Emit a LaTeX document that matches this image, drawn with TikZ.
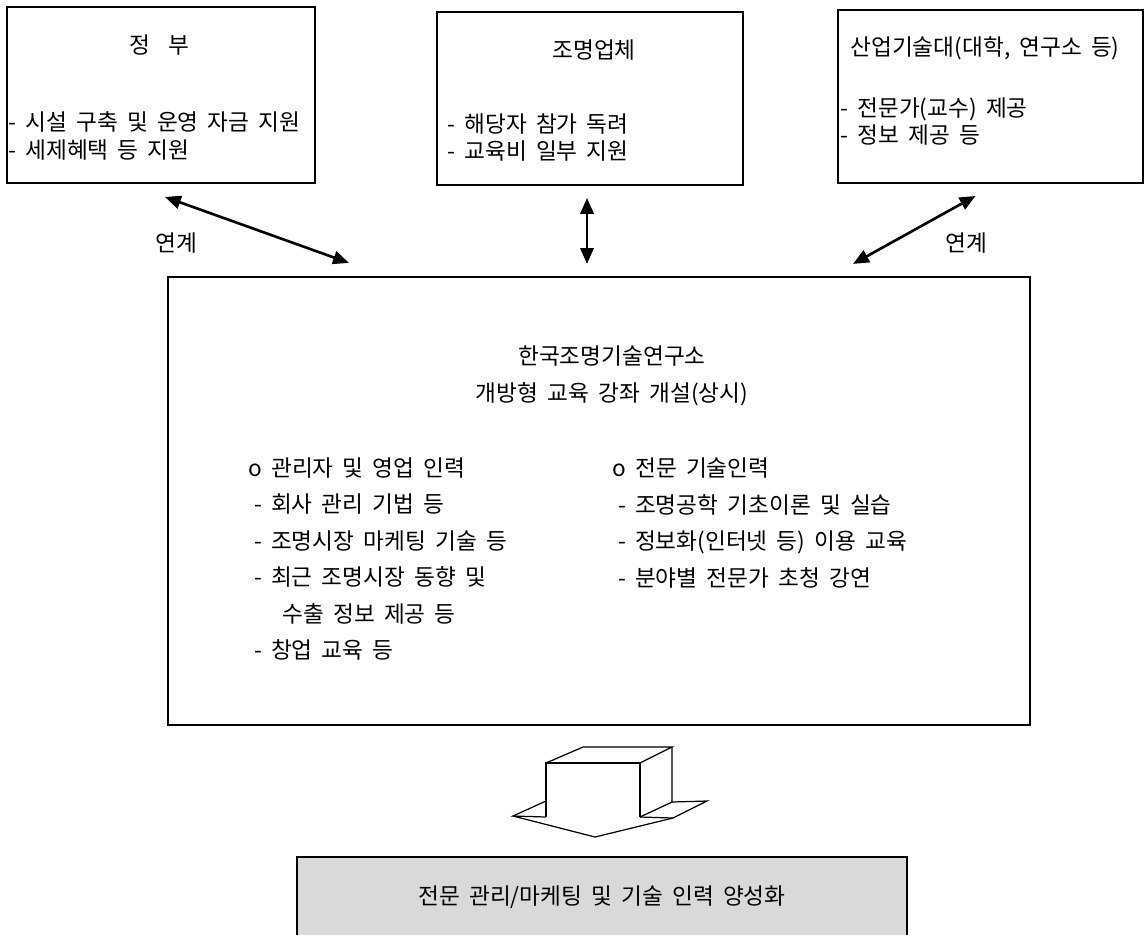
\documentclass[tikz,border=0pt]{standalone}
\usepackage{fontspec}
\setmainfont{Noto Sans CJK KR}[WordSpace=1.8]
\usetikzlibrary{arrows.meta, positioning, calc}

\begin{document}
\begin{tikzpicture}[x=0.02cm, y=-0.02cm,
    orgbox/.style={draw, line width=1.1pt, inner sep=0pt},
    boxtext/.style={inner sep=0pt, align=left, font=\fontsize{12.9pt}{15.9pt}\selectfont},
    listtext/.style={inner sep=0pt, anchor=west, align=left, font=\fontsize{12.9pt}{20.8pt}\selectfont},
    link/.style={{Triangle[length=9pt,width=7.5pt]}-{Triangle[length=9pt,width=7.5pt]}, line width=1.5pt},
    blockarrow/.style={line width=0.7pt, line join=miter}]
  \clip (0,0) rectangle (1145,934);

  % partner boxes
  \node[orgbox, minimum width=6.16cm, minimum height=3.52cm] (govt) at (161,95) {};
  \node[orgbox, minimum width=6.12cm, minimum height=3.46cm] (firm) at (590,98.5) {};
  \node[orgbox, minimum width=6.10cm, minimum height=3.46cm] (univ) at (990.5,96.5) {};

  \node[boxtext] (govttitle) at (159,45) {정\hspace{0.8em}부};
  \node[boxtext, anchor=west] (govtitems) at (8,136) {- 시설 구축 및 운영 자금 지원\\- 세제혜택 등 지원};
  \node[boxtext] (firmtitle) at (594,50) {조명업체};
  \node[boxtext, anchor=west] (firmitems) at (447,137.5) {- 해당자 참가 독려\\- 교육비 일부 지원};
  \node[boxtext] (univtitle) at (985,48) {산업기술대(대학, 연구소 등)};
  \node[boxtext, anchor=west] (univitems) at (840,121.5) {- 전문가(교수) 제공\\- 정보 제공 등};

  % institute
  \node[orgbox, line width=1.3pt, minimum width=17.24cm, minimum height=8.96cm] (inst) at (599,501) {};
  \node[boxtext, align=center, font=\fontsize{12.9pt}{20.8pt}\selectfont] (insttitle) at (612,376)
    {한국조명기술연구소\\개방형 교육 강좌 개설(상시)};
  \node[listtext] (mgmt) at (248,559) {o 관리자 및 영업 인력\\
    \hspace{0.25em}- 회사 관리 기법 등\\
    \hspace{0.25em}- 조명시장 마케팅 기술 등\\
    \hspace{0.25em}- 최근 조명시장 동향 및\\
    \hspace{1.5em}수출 정보 제공 등\\
    \hspace{0.25em}- 창업 교육 등};
  \node[listtext] (tech) at (612,523) {o 전문 기술인력\\
    \hspace{0.25em}- 조명공학 기초이론 및 실습\\
    \hspace{0.25em}- 정보화(인터넷 등) 이용 교육\\
    \hspace{0.25em}- 분야별 전문가 초청 강연};

  % links
  \draw[link] ($(govt.south)+(4,13)$) -- ($(inst.north west)+(182,-13)$);
  \draw[link] ($(firm.south)+(-3,12)$) -- ($(firm.south |- inst.north)+(-3,-12)$);
  \draw[link] ($(univ.south)+(-15,12)$) -- ($(inst.north east)+(-178,-12)$);
  \node[boxtext] (linkleft) at (176,243) {연계};
  \node[boxtext] (linkright) at (966,243) {연계};

  % block arrow
  \draw[blockarrow] (546,817) -- (546,763) -- (640,763) -- (640,817);
  \draw[blockarrow] (546,763) -- (583,747) -- (672,747) -- (640,763);
  \draw[blockarrow] (672,747) -- (672,802) -- (640,817);
  \draw[blockarrow] (546,801) -- (513,816) -- (546,817);
  \draw[blockarrow] (672,802) -- (707,801) -- (673,818) -- (640,817);
  \draw[blockarrow] (513,816) -- (595,837) -- (673,818);

  % result
  \node[orgbox, line width=1.3pt, fill=black!15, minimum width=12.2cm, minimum height=1.6cm,
    font=\fontsize{12.9pt}{15.9pt}\selectfont] (goal) at (602,897) {전문 관리/마케팅 및 기술 인력 양성화};
\end{tikzpicture}
\end{document}
